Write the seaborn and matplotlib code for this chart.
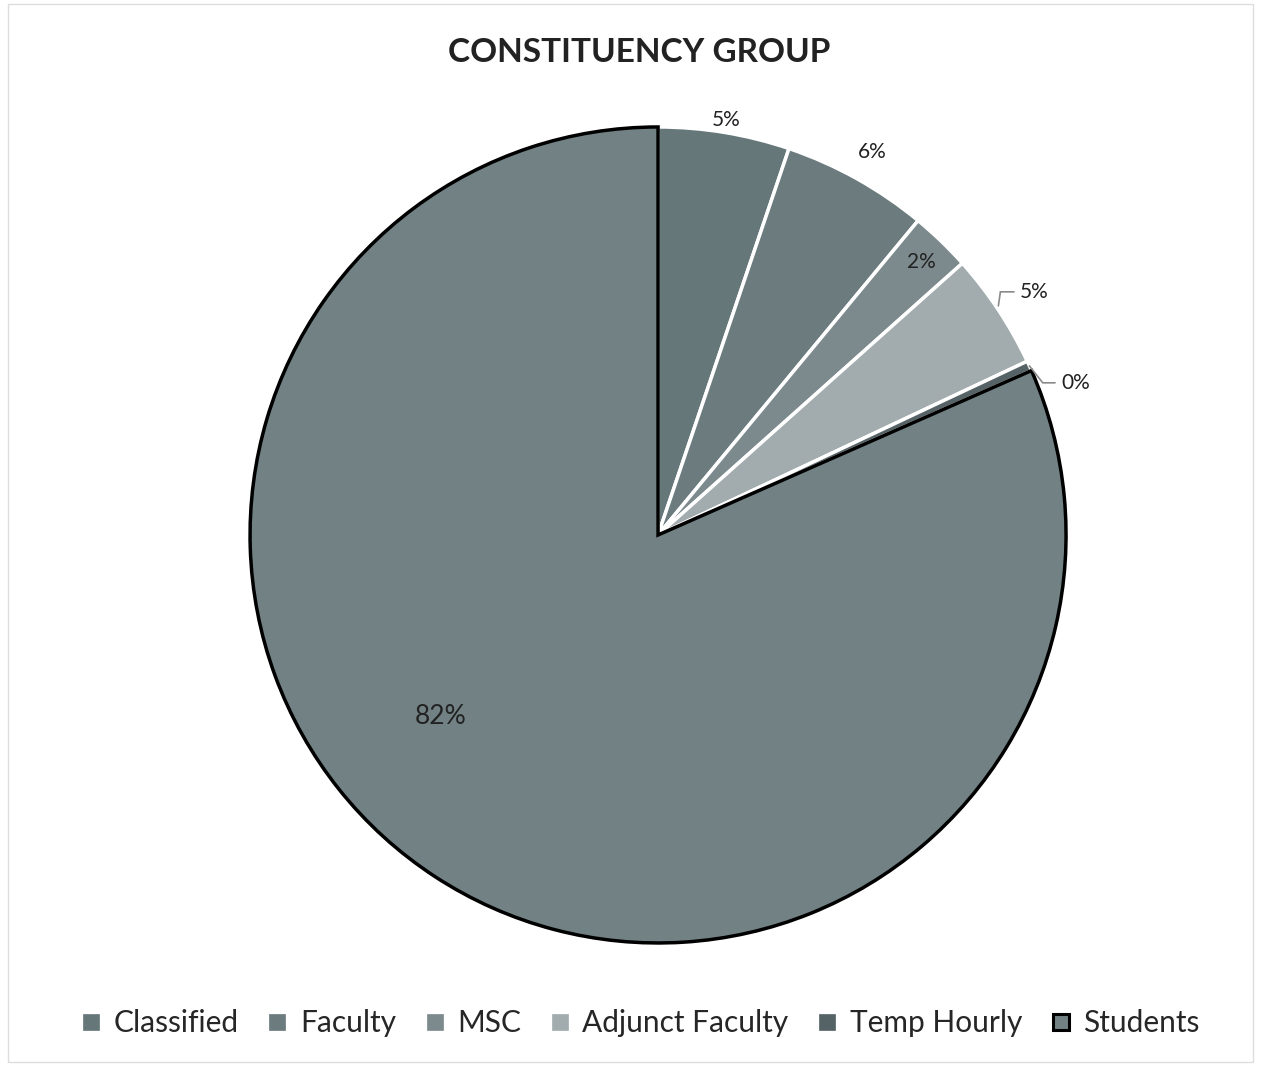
import numpy as np
import matplotlib
matplotlib.use("Agg")
import matplotlib.pyplot as plt
import seaborn as sns
from matplotlib.lines import Line2D
from matplotlib.patches import Rectangle

# Data (share of respondents, %)
groups = ["Classified", "Faculty", "MSC", "Adjunct Faculty", "Temp Hourly", "Students"]
shares = [5.2, 5.8, 2.4, 4.6, 0.4, 81.6]
labels = ["5%", "6%", "2%", "5%", "0%", "82%"]

colors = ["#66777a", "#6b7b7e", "#7d8a8d", "#a2acae", "#566366", "#718184"]
edge_colors = ["white", "white", "white", "white", "white", "black"]
# label placement: distance from centre and angle shift (deg) from wedge middle
label_radius = [1.03, 1.075, 0.93, 1.069, 1.056, 0.694]
label_shift = [0, 0, 0, 0.4, -3.8, -17]
leader = [False, False, False, True, True, False]

sns.set_theme(style="white")
plt.rcParams["font.family"] = ["Lato", "DejaVu Sans"]

fig = plt.figure(figsize=(12.61, 10.66), dpi=100)
ax = fig.add_axes([0.1983, 0.1154, 0.6471, 0.7655])

wedges, _ = ax.pie(shares, colors=colors, startangle=90, counterclock=False,
                   radius=1.0, wedgeprops=dict(linewidth=2.5))
for w, ec in zip(wedges, edge_colors):
    w.set_edgecolor(ec)
wedges[-1].set_zorder(3)

for i, (w, lab) in enumerate(zip(wedges, labels)):
    mid = (w.theta1 + w.theta2) / 2
    ang = np.deg2rad(mid + label_shift[i])
    r = label_radius[i]
    x, y = r * np.cos(ang), r * np.sin(ang)
    size = 19 if lab == "82%" else 15
    if leader[i]:
        m = np.deg2rad(mid)
        ex, ey = 1.0 * np.cos(m), 1.0 * np.sin(m)
        if y > ey:
            xs, ys = [ex, ex + 0.005, x - 0.015], [ey + 0.01, y, y]
        else:
            xs, ys = [ex, x - 0.045, x - 0.015], [ey, y, y]
        ax.plot(xs, ys, color="#8a8a8a", lw=1.2, zorder=4, solid_joinstyle="miter")
        ax.text(x, y, lab, ha="left", va="center", fontsize=size, color="#222222")
    else:
        ax.text(x, y, lab, ha="center", va="center", fontsize=size, color="#222222")

ax.set_xlim(-1, 1)
ax.set_ylim(-1, 1)
ax.set_aspect("equal")
ax.axis("off")

fig.text(0.507, 0.951, "CONSTITUENCY GROUP", ha="center", va="center",
         fontsize=24, fontweight="bold", color="#222222")

handles = [Line2D([0], [0], marker="s", linestyle="", markersize=11,
                  markerfacecolor=c, markeredgecolor=("black" if ec == "black" else c),
                  markeredgewidth=(2.2 if ec == "black" else 0.5))
           for c, ec in zip(colors, edge_colors)]
fig.legend(handles, groups, loc="center", bbox_to_anchor=(0.507, 0.04), ncol=6,
           frameon=False, fontsize=21.5, handletextpad=0.35, columnspacing=0.9,
           handlelength=0.8)

fig.patches.append(Rectangle((0.006, 0.004), 0.988, 0.992, transform=fig.transFigure,
                             fill=False, edgecolor="#dddddd", lw=1))

fig.savefig("out.png", dpi=100, facecolor="white")
